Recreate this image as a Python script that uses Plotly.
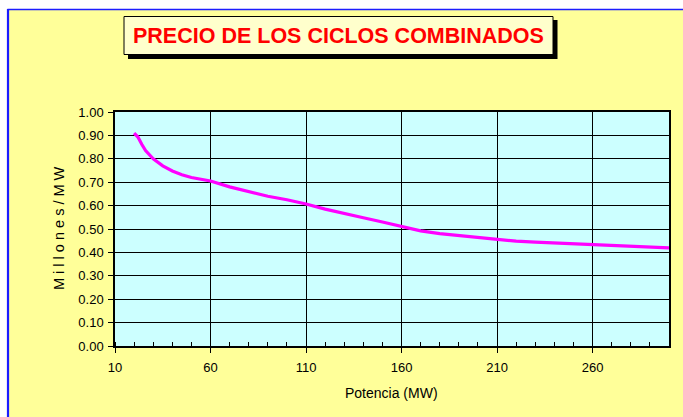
import plotly.graph_objects as go

# Installed power (MW) and specific cost (millions per MW)
potencia_mw = [20, 22, 24, 26, 30, 35, 40, 45, 50, 55, 60, 70, 80, 90, 100,
               110, 120, 130, 140, 150, 160, 170, 180, 190, 200, 210, 220,
               230, 240, 250, 260, 270, 280, 290, 300]
precio_mill_mw = [0.91, 0.893, 0.862, 0.835, 0.800, 0.770, 0.748, 0.732, 0.720,
                  0.712, 0.705, 0.680, 0.660, 0.640, 0.625, 0.607, 0.585, 0.565,
                  0.548, 0.530, 0.510, 0.492, 0.480, 0.472, 0.462, 0.457, 0.448,
                  0.444, 0.440, 0.436, 0.433, 0.429, 0.424, 0.421, 0.419]

titulo = "PRECIO DE LOS CICLOS COMBINADOS"
eje_x = "Potencia (MW)"
eje_y = "M i l l o n e s / M W"

W, H = 683, 417
ML, MR, MT, MB = 115, 14, 112, 71
PW, PH = W - ML - MR, H - MT - MB


def px(x):
    return (x - ML) / PW


def py(y):
    return (H - MB - y) / PH


FONT = "Liberation Sans, Arial, sans-serif"

fig = go.Figure()
fig.add_trace(go.Scatter(
    x=potencia_mw, y=precio_mill_mw, mode="lines",
    line=dict(color="#FF00FF", width=3.2), hoverinfo="skip", showlegend=False,
))

shapes = [
    # white strips outside the chart frame
    dict(type="rect", xref="paper", yref="paper", x0=px(-5), x1=px(W + 5),
         y0=py(-5), y1=py(9), fillcolor="white", line_width=0, layer="above"),
    dict(type="rect", xref="paper", yref="paper", x0=px(-5), x1=px(7),
         y0=py(-5), y1=py(H + 5), fillcolor="white", line_width=0, layer="above"),
    # blue frame edges
    dict(type="line", xref="paper", yref="paper", x0=px(7.5), x1=px(W + 5),
         y0=py(9.5), y1=py(9.5), line=dict(color="#1C1CFF", width=1.6), layer="above"),
    dict(type="line", xref="paper", yref="paper", x0=px(8), x1=px(8),
         y0=py(9), y1=py(H + 5), line=dict(color="#1C1CFF", width=2.2), layer="above"),
    # title box shadow and box
    dict(type="rect", xref="paper", yref="paper", x0=px(128), x1=px(557.5),
         y0=py(59), y1=py(20), fillcolor="black", line_width=0, layer="above"),
    dict(type="rect", xref="paper", yref="paper", x0=px(124), x1=px(553),
         y0=py(54.5), y1=py(16.5), fillcolor="#FFFFCC",
         line=dict(color="black", width=1), layer="above"),
]

annotations = [
    dict(text=f"<b>{titulo}</b>", xref="paper", yref="paper",
         x=px(338.5), y=py(36), xanchor="center", yanchor="middle",
         showarrow=False, font=dict(family=FONT, size=21.5, color="#FF0000")),
    dict(text=eje_y, xref="paper", yref="paper", x=px(59), y=py(228),
         xanchor="center", yanchor="middle", textangle=-90, showarrow=False,
         font=dict(family=FONT, size=14.5, color="black")),
    dict(text=eje_x, xref="paper", yref="paper", x=px(391.5), y=py(393),
         xanchor="center", yanchor="middle", showarrow=False,
         font=dict(family=FONT, size=14, color="black")),
]

fig.update_layout(
    width=W, height=H,
    margin=dict(l=ML, r=MR, t=MT, b=MB, pad=0),
    paper_bgcolor="#FFFF99", plot_bgcolor="#CCFFFF",
    shapes=shapes, annotations=annotations,
    font=dict(family=FONT, size=13, color="black"),
)
fig.update_xaxes(
    range=[10, 300], tick0=10, dtick=50, showgrid=True, gridcolor="black",
    gridwidth=1, ticks="outside", ticklen=5, tickcolor="black",
    showline=True, linecolor="black", linewidth=1.5, mirror=True,
    zeroline=False, tickfont=dict(size=13), ticklabelstandoff=4,
    minor=dict(tick0=10, dtick=10, ticks="inside", ticklen=4,
               tickcolor="black", showgrid=False),
)
fig.update_yaxes(
    range=[0, 1], dtick=0.1, tickformat=".2f", showgrid=True,
    gridcolor="black", gridwidth=1, ticks="outside", ticklen=5,
    tickcolor="black", showline=True, linecolor="black", linewidth=1.5,
    mirror=True, zeroline=False, tickfont=dict(size=13), ticklabelstandoff=2,
)

fig.write_html("out.html")
